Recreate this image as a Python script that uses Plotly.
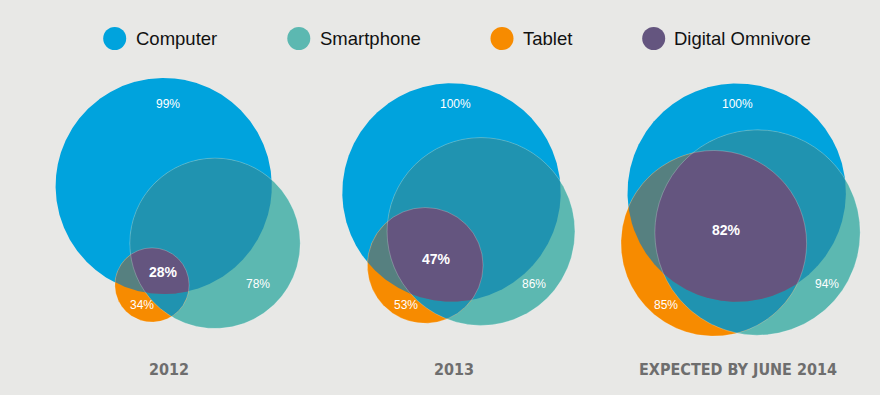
import numpy as np
import plotly.graph_objects as go

# ---------------- data ----------------
categories = ["Computer", "Smartphone", "Tablet", "Digital Omnivore"]
periods = ["2012", "2013", "EXPECTED BY JUNE 2014"]
computer = [99, 100, 100]
smartphone = [78, 86, 94]
tablet = [34, 53, 85]
omnivore = [28, 47, 82]

# ---------------- styling / layout ----------------
W, H = 880, 395
BG = "#e8e8e6"
COL = {"Computer": "#00a3dd", "Smartphone": "#5cb8b1", "Tablet": "#f78b00",
       "Digital Omnivore": "#64557f"}
COL_CS = "#2093b0"   # computer + smartphone
COL_TS = "#2093b0"   # tablet + smartphone
COL_TC = "#568080"   # tablet + computer
PX_PER_PCT = 1.092   # circle radius scale (px per percent)

# circle centres per panel (px): computer, smartphone, tablet
centres = [
    {"C": (163.7, 186.0), "S": (215.0, 243.3), "T": (152.0, 285.0)},
    {"C": (451.5, 192.5), "S": (481.0, 231.5), "T": (425.2, 265.4)},
    {"C": (736.7, 192.6), "S": (757.5, 232.5), "T": (713.8, 243.3)},
]
# label positions per panel: computer, smartphone, tablet, omnivore
label_pos = [
    {"C": (168.3, 104), "S": (258.0, 284), "T": (141.7, 305.3), "O": (163.7, 272.3)},
    {"C": (455.5, 104), "S": (534.0, 284.3), "T": (405.7, 305.3), "O": (436.3, 259)},
    {"C": (737.0, 104), "S": (826.7, 283.7), "T": (665.7, 305.3), "O": (726.8, 230)},
]
period_x = [169, 454, 738]
period_y = 369
legend_mx = [114.7, 298.8, 502.0, 653.7]
legend_tx = [134.0, 317.7, 521.0, 671.7]
legend_y = 38.5


def circle_points(c, n=1440):
    cx, cy, r = c
    a = np.linspace(0, 2 * np.pi, n, endpoint=False)
    return cx + r * np.cos(a), cy + r * np.sin(a)


def region(circles):
    xs, ys = [], []
    for i, c in enumerate(circles):
        x, y = circle_points(c)
        keep = np.ones_like(x, dtype=bool)
        for j, o in enumerate(circles):
            if i == j:
                continue
            keep &= (x - o[0]) ** 2 + (y - o[1]) ** 2 <= o[2] ** 2 + 1e-6
        xs.append(x[keep]); ys.append(y[keep])
    x = np.concatenate(xs); y = np.concatenate(ys)
    if len(x) == 0:
        return None, None
    mx, my = x.mean(), y.mean()
    order = np.argsort(np.arctan2(y - my, x - mx))
    x = x[order]; y = y[order]
    return np.append(x, x[0]), np.append(y, y[0])


fig = go.Figure()
shapes = []
annotations = []


def add_poly(x, y, color):
    if x is None:
        return
    fig.add_trace(go.Scatter(x=x, y=y, mode="lines", fill="toself",
                             fillcolor=color, line=dict(width=0, color=color),
                             hoverinfo="skip", showlegend=False))


for p in range(3):
    cen = centres[p]
    C = (*cen["C"], computer[p] * PX_PER_PCT)
    S = (*cen["S"], smartphone[p] * PX_PER_PCT)
    T = (*cen["T"], tablet[p] * PX_PER_PCT)
    # full circles
    for circ, name in ((C, "Computer"), (S, "Smartphone"), (T, "Tablet")):
        x, y = circle_points(circ)
        add_poly(np.append(x, x[0]), np.append(y, y[0]), COL[name])
    # pairwise overlaps
    add_poly(*region([C, S]), COL_CS)
    add_poly(*region([T, S]), COL_TS)
    add_poly(*region([T, C]), COL_TC)
    # triple overlap = digital omnivore
    add_poly(*region([C, S, T]), COL["Digital Omnivore"])
    # faint outlines
    for circ in (S, T):
        shapes.append(dict(type="circle", xref="x", yref="y",
                           x0=circ[0] - circ[2], x1=circ[0] + circ[2],
                           y0=circ[1] - circ[2], y1=circ[1] + circ[2],
                           line=dict(color="rgba(255,255,255,0.28)", width=0.8),
                           fillcolor="rgba(0,0,0,0)", layer="above"))
    # labels
    lp = label_pos[p]
    for key, val in (("C", computer[p]), ("S", smartphone[p]), ("T", tablet[p])):
        annotations.append(dict(x=lp[key][0], y=lp[key][1], xref="x", yref="y",
                                text=f"{val}%", showarrow=False,
                                font=dict(family="Liberation Sans, Arial", size=12,
                                          color="white")))
    annotations.append(dict(x=lp["O"][0], y=lp["O"][1], xref="x", yref="y",
                            text=f"<b>{omnivore[p]}%</b>", showarrow=False,
                            font=dict(family="Liberation Sans, Arial", size=14,
                                      color="white")))
    annotations.append(dict(x=period_x[p], y=period_y, xref="x", yref="y",
                            text=f"<b>{periods[p]}</b>", showarrow=False,
                            font=dict(family="DejaVu Sans Condensed, Liberation Sans",
                                      size=16, color="#6e6e6e")))

# legend
fig.add_trace(go.Scatter(x=legend_mx, y=[legend_y] * 4, mode="markers",
                         marker=dict(size=23, color=[COL[c] for c in categories],
                                     line=dict(width=0)),
                         hoverinfo="skip", showlegend=False))
for cat, tx in zip(categories, legend_tx):
    annotations.append(dict(x=tx, y=legend_y, xref="x", yref="y", text=cat,
                            showarrow=False, xanchor="left",
                            font=dict(family="Liberation Sans, Arial", size=18.5,
                                      color="#111111")))

fig.update_layout(
    width=W, height=H, autosize=False,
    margin=dict(l=0, r=0, t=0, b=0),
    paper_bgcolor=BG, plot_bgcolor=BG,
    xaxis=dict(range=[0, W], visible=False, fixedrange=True),
    yaxis=dict(range=[H, 0], visible=False, fixedrange=True),
    shapes=shapes, annotations=annotations, showlegend=False,
)
fig.write_html("out.html", config={"displayModeBar": False},
               post_script="document.body.style.margin='0';document.body.style.background='" + BG + "';")
